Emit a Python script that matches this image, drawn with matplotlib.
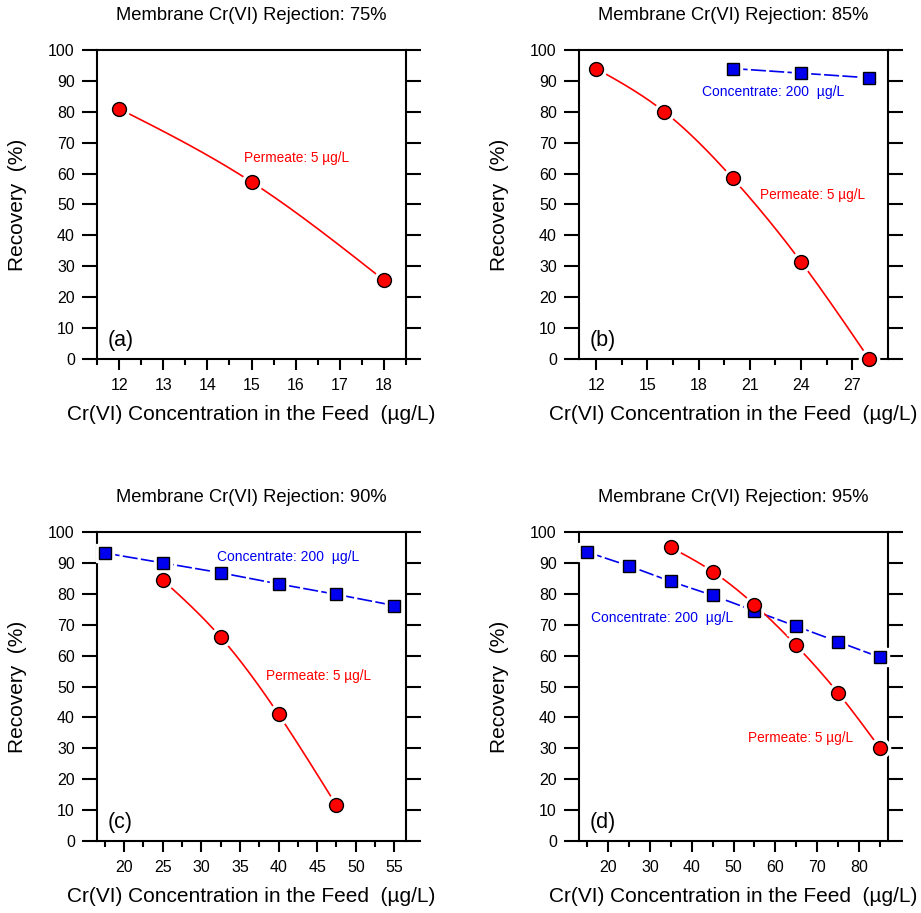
import numpy as np
import matplotlib.pyplot as plt
from matplotlib.ticker import MultipleLocator

plt.rcParams['font.family'] = ['Liberation Sans', 'DejaVu Sans']

# (a) rejection 75%
a_perm_x = [12, 15, 18]
a_perm_y = [81.0, 57.3, 25.5]

# (b) rejection 85%
b_perm_x = [12, 16, 20, 24, 28]
b_perm_y = [94.0, 80.0, 58.5, 31.5, 0.0]
b_conc_x = [20, 24, 28]
b_conc_y = [94.0, 92.5, 91.0]

# (c) rejection 90%
c_perm_x = [25, 32.5, 40, 47.5]
c_perm_y = [84.5, 66.0, 41.0, 11.5]
c_conc_x = [17.5, 25, 32.5, 40, 47.5, 55]
c_conc_y = [93.2, 90.0, 86.8, 83.2, 79.8, 76.2]

# (d) rejection 95%
d_perm_x = [35, 45, 55, 65, 75, 85]
d_perm_y = [95.0, 87.2, 76.5, 63.3, 48.0, 30.2]
d_conc_x = [15, 25, 35, 45, 55, 65, 75, 85]
d_conc_y = [93.5, 89.0, 84.0, 79.5, 74.5, 69.5, 64.5, 59.5]

titles = ["Membrane Cr(VI) Rejection: 75%", "Membrane Cr(VI) Rejection: 85%",
          "Membrane Cr(VI) Rejection: 90%", "Membrane Cr(VI) Rejection: 95%"]
letters = ["(a)", "(b)", "(c)", "(d)"]

RED = "#ff0000"
BLUE = "#0000ee"


def natural_spline(x, y, n=200):
    x = np.asarray(x, float)
    y = np.asarray(y, float)
    k = len(x)
    h = np.diff(x)
    A = np.zeros((k, k))
    r = np.zeros(k)
    A[0, 0] = A[-1, -1] = 1
    for i in range(1, k - 1):
        A[i, i - 1] = h[i - 1]
        A[i, i] = 2 * (h[i - 1] + h[i])
        A[i, i + 1] = h[i]
        r[i] = 6 * ((y[i + 1] - y[i]) / h[i] - (y[i] - y[i - 1]) / h[i - 1])
    m = np.linalg.solve(A, r)
    xs = np.linspace(x[0], x[-1], n)
    idx = np.clip(np.searchsorted(x, xs) - 1, 0, k - 2)
    x0, x1 = x[idx], x[idx + 1]
    hh = x1 - x0
    t0, t1 = x1 - xs, xs - x0
    ys = (m[idx] * t0**3 + m[idx + 1] * t1**3) / (6 * hh) \
        + (y[idx] / hh - m[idx] * hh / 6) * t0 + (y[idx + 1] / hh - m[idx + 1] * hh / 6) * t1
    return xs, ys


def permeate(ax, x, y):
    xs, ys = natural_spline(x, y)
    ax.plot(xs, ys, color=RED, lw=1.2, zorder=2, clip_on=False)
    # white halo leaves a small gap between line and marker
    ax.plot(x, y, 'o', ms=14.5, color='white', mec='white', zorder=3, clip_on=False)
    ax.plot(x, y, 'o', ms=10, mfc=RED, mec='black', mew=1.0, zorder=4, clip_on=False)


def concentrate(ax, x, y):
    ax.plot(x, y, color=BLUE, lw=1.2, dashes=(9, 2), zorder=2)
    ax.plot(x, y, 's', ms=12.5, color='white', mec='white', zorder=3, clip_on=False)
    ax.plot(x, y, 's', ms=8.5, mfc=BLUE, mec='black', mew=1.0, zorder=4, clip_on=False)


fig = plt.figure(figsize=(9.21, 9.13), dpi=100)
W, H = 921, 913
boxes = [(97, 50), (579, 50), (97, 532), (579, 532)]
axes = []
for (l, t) in boxes:
    ax = fig.add_axes([l / W, 1 - (t + 309) / H, 309 / W, 309 / H])
    axes.append(ax)

xlims = [(11.5, 18.5), (11.0, 29.1), (16.5, 56.5), (13.0, 87.0)]
majors = [1, 3, 5, 10]
minors = [0.5, 1.5, 2.5, 5]

for i, ax in enumerate(axes):
    ax.set_xlim(*xlims[i])
    ax.set_ylim(0, 100)
    ax.xaxis.set_major_locator(MultipleLocator(majors[i]))
    ax.xaxis.set_minor_locator(MultipleLocator(minors[i]))
    ax.yaxis.set_major_locator(MultipleLocator(10))
    ax.tick_params(axis='y', which='major', direction='out', length=11, width=1.5,
                   left=True, right=True, labelright=False, labelsize=11.5, pad=5)
    ax.tick_params(axis='x', which='major', direction='out', length=8, width=1.5,
                   top=False, labelsize=11.5, pad=6)
    ax.tick_params(axis='x', which='minor', direction='out', length=4.5, width=1.5, top=False)
    for s in ax.spines.values():
        s.set_linewidth(1.5)
    ax.set_xlabel("Cr(VI) Concentration in the Feed  (µg/L)", fontsize=15)
    ax.set_ylabel("Recovery  (%)", fontsize=15)
    ax.xaxis.set_label_coords(0.5, -0.15)
    ax.yaxis.set_label_coords(-0.225, 0.5)
    ax.text(0.035, 0.06, letters[i], transform=ax.transAxes, fontsize=15.5, va='center', ha='left')
    pos = ax.get_position()
    fig.text(pos.x0 + pos.width / 2, pos.y1 + 35 / H, titles[i], ha='center', va='center', fontsize=13.2)

permeate(axes[0], a_perm_x, a_perm_y)
axes[0].text(14.83, 65, "Permeate: 5 µg/L", color=RED, fontsize=9.8, va='center')

permeate(axes[1], b_perm_x, b_perm_y)
concentrate(axes[1], b_conc_x, b_conc_y)
axes[1].text(18.2, 86.4, "Concentrate: 200  µg/L", color=BLUE, fontsize=10, va='center')
axes[1].text(21.6, 53.0, "Permeate: 5 µg/L", color=RED, fontsize=9.8, va='center')

concentrate(axes[2], c_conc_x, c_conc_y)
permeate(axes[2], c_perm_x, c_perm_y)
axes[2].text(32.05, 91.8, "Concentrate: 200  µg/L", color=BLUE, fontsize=10, va='center')
axes[2].text(38.4, 53.4, "Permeate: 5 µg/L", color=RED, fontsize=9.8, va='center')

concentrate(axes[3], d_conc_x, d_conc_y)
permeate(axes[3], d_perm_x, d_perm_y)
axes[3].text(15.9, 72.1, "Concentrate: 200  µg/L", color=BLUE, fontsize=10, va='center')
axes[3].text(53.5, 33.2, "Permeate: 5 µg/L", color=RED, fontsize=9.8, va='center')

fig.savefig("out.png", dpi=100)
